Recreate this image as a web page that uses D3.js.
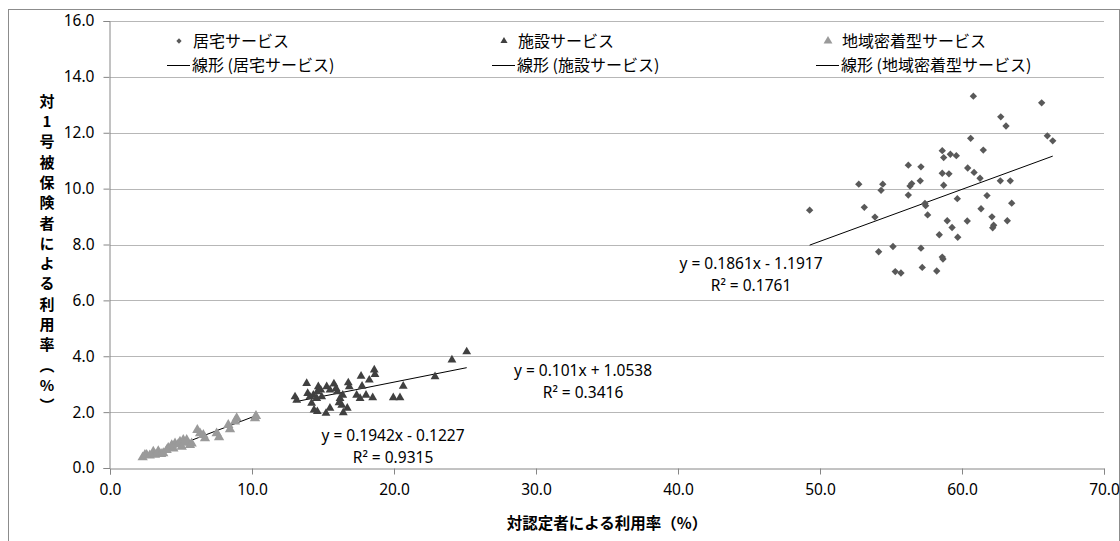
<!DOCTYPE html>
<html>
<head>
<meta charset="utf-8">
<script src="https://cdn.jsdelivr.net/npm/d3@7"></script>
<style>
    body { margin: 0; background: #fff; }
    svg text { font-family: "Noto Sans", "Noto Sans CJK JP", sans-serif; }
    .jp { font-family: "Noto Sans CJK JP", sans-serif; }
</style>
</head>
<body>
<div id="chart"></div>
<script>
// 居宅サービス [対認定者, 対1号被保険者]
const kyotakuX = [60.80, 65.61, 62.73, 63.10, 66.01, 66.39, 60.61, 61.50, 58.61, 58.71, 59.18, 59.60, 56.22, 57.11, 60.40,
    60.85, 58.61, 59.08, 61.27, 52.73, 54.42, 54.30, 56.46, 56.34, 57.06, 58.71, 62.70, 63.40, 56.22, 49.27,
    53.12, 53.87, 57.39, 57.44, 59.67, 61.76, 57.58, 61.34, 63.50, 58.96, 59.30, 60.37, 62.11, 62.23, 62.16,
    63.19, 59.70, 58.40, 55.14, 57.11, 54.13, 58.61, 58.66, 55.30, 55.70, 57.20, 58.22];
const kyotakuY = [13.31, 13.07, 12.57, 12.24, 11.89, 11.71, 11.80, 11.38, 11.36, 11.11, 11.23, 11.18, 10.84, 10.78, 10.74,
    10.58, 10.55, 10.53, 10.37, 10.16, 10.16, 9.94, 10.18, 10.09, 10.28, 10.12, 10.28, 10.28, 9.77, 9.23,
    9.33, 8.98, 9.47, 9.39, 9.64, 9.75, 9.06, 9.28, 9.48, 8.85, 8.61, 8.84, 8.99, 8.69, 8.60,
    8.85, 8.26, 8.35, 7.93, 7.87, 7.74, 7.55, 7.48, 7.03, 6.98, 7.18, 7.05];

// 施設サービス
const shisetsuX = [25.12, 24.08, 22.89, 20.65, 19.95, 20.42, 18.61, 18.66, 18.26, 17.68, 17.75, 17.37, 17.61, 18.03, 18.50,
    16.78, 16.85, 16.71, 16.43, 16.13, 16.32, 16.39, 16.20, 15.77, 15.92, 16.01, 15.26, 15.49, 15.49, 15.21,
    14.60, 14.67, 14.84, 14.32, 14.56, 14.91, 14.20, 14.37, 14.60, 13.85, 13.92, 14.08, 13.03, 13.15];
const shisetsuY = [4.16, 3.87, 3.27, 2.93, 2.52, 2.52, 3.51, 3.35, 3.15, 3.29, 2.93, 2.61, 2.49, 2.61, 2.52,
    3.05, 2.91, 2.14, 1.98, 2.34, 2.25, 2.61, 2.49, 3.01, 2.85, 2.73, 2.91, 2.79, 2.14, 1.96,
    2.73, 2.91, 2.79, 2.61, 2.49, 2.55, 2.32, 2.08, 2.02, 3.03, 2.67, 2.55, 2.55, 2.43];

// 地域密着型サービス
const chiikiX = [2.30, 2.46, 2.58, 2.80, 3.05, 3.17, 3.40, 3.60, 3.75, 3.99, 4.10, 4.35, 4.58, 4.46, 4.80, 4.93, 5.16,
    5.05, 5.30, 5.40, 5.63, 5.75, 6.15, 6.34, 6.57, 6.69, 7.51, 7.68, 8.33, 8.45, 8.92, 8.80, 10.21, 10.28];
const chiikiY = [0.38, 0.47, 0.47, 0.45, 0.58, 0.47, 0.60, 0.50, 0.53, 0.64, 0.72, 0.82, 0.88, 0.70, 0.85, 0.94, 1.00,
    0.76, 0.90, 1.00, 0.82, 0.88, 1.36, 1.24, 1.18, 1.06, 1.24, 1.10, 1.54, 1.39, 1.78, 1.66, 1.78, 1.86];

const seriesNames = ['居宅サービス', '施設サービス', '地域密着型サービス'];
const slopes = [0.1861, 0.101, 0.1942];
const intercepts = [-1.1917, 1.0538, -0.1227];
const r2 = [0.1761, 0.3416, 0.9315];
const xTicks = [0, 10, 20, 30, 40, 50, 60, 70];
const yTicks = [0, 2, 4, 6, 8, 10, 12, 14, 16];
const xTitle = '対認定者による利用率（%）';
const yTitle = '対1号被保険者による利用率（%）';

const W = 1120, H = 541;
const m = {left: 110, right: 16, top: 21, bottom: 73};

const svg = d3.select('#chart').append('svg')
    .attr('width', W)
    .attr('height', H);

svg.append('rect')
    .attr('x', 8.5).attr('y', 9.5)
    .attr('width', 1111).attr('height', 540)
    .attr('fill', 'none')
    .attr('stroke', '#8c8c8c');

let x = d3.scaleLinear().domain([0, 70]).range([m.left, W - m.right]);
let y = d3.scaleLinear().domain([0, 16]).range([H - m.bottom, m.top]);

// grid
svg.append('g').selectAll('line')
    .data(yTicks.filter(d => d > 0))
    .enter().append('line')
    .attr('x1', x(0)).attr('x2', x(70))
    .attr('y1', d => Math.round(y(d)) + 0.5)
    .attr('y2', d => Math.round(y(d)) + 0.5)
    .attr('stroke', '#b7b7b7');

let yAxis = svg.append('g')
    .attr('transform', 'translate(' + (m.left - 0.5) + ',0)')
    .call(d3.axisLeft(y).tickValues(yTicks).tickFormat(d3.format('.1f')).tickSize(6).tickPadding(9));
let xAxis = svg.append('g')
    .attr('transform', 'translate(0,' + (Math.round(y(0)) + 0.5) + ')')
    .call(d3.axisBottom(x).tickValues(xTicks).tickFormat(d3.format('.1f')).tickSize(6).tickPadding(6));

[yAxis, xAxis].forEach(function (a) {
    a.selectAll('path, line').attr('stroke', '#868686');
    a.selectAll('text').style('font-size', '15.5px').attr('fill', '#000');
});
xAxis.selectAll('text').attr('dy', '0.95em');

// trend lines
const xs = [kyotakuX, shisetsuX, chiikiX];
const ys = [kyotakuY, shisetsuY, chiikiY];
xs.forEach(function (arr, i) {
    let ext = d3.extent(arr);
    svg.append('line')
        .attr('x1', x(ext[0])).attr('y1', y(slopes[i] * ext[0] + intercepts[i]))
        .attr('x2', x(ext[1])).attr('y2', y(slopes[i] * ext[1] + intercepts[i]))
        .attr('stroke', '#000')
        .attr('stroke-width', 1);
});

// markers
const colors = ['#595959', '#404040', '#9a9a9a'];
const diamond = d3.symbol().type(d3.symbolSquare).size(27);
const tri1 = d3.symbol().type(d3.symbolTriangle).size(34);
const tri2 = d3.symbol().type(d3.symbolTriangle).size(46);
const shapes = [diamond, tri1, tri2];

// draw 地域 first, then 施設, then 居宅
[2, 1, 0].forEach(function (s) {
    let pts = xs[s].map((v, i) => [v, ys[s][i]]);
    svg.append('g').selectAll('path')
        .data(pts)
        .enter().append('path')
        .attr('d', shapes[s]())
        .attr('transform', d => 'translate(' + x(d[0]) + ',' + y(d[1]) + ')' + (s === 0 ? ' rotate(45)' : ''))
        .attr('fill', colors[s]);
});

// equations
const eqPos = [[751, 264], [583, 371], [393, 436]];
const eqFmt = [
    'y = 0.1861x - 1.1917',
    'y = 0.101x + 1.0538',
    'y = 0.1942x - 0.1227'
];
eqFmt.forEach(function (t, i) {
    let g = svg.append('g').attr('transform', 'translate(' + eqPos[i][0] + ',' + eqPos[i][1] + ')');
    g.append('text').attr('text-anchor', 'middle').attr('dy', '0.35em')
        .style('font-size', '15.5px').text(t);
    g.append('text').attr('text-anchor', 'middle').attr('y', 22).attr('dy', '0.35em')
        .style('font-size', '15.5px').text('R² = ' + r2[i].toFixed(4));
});

// legend
const legX = [179, 504, 828];
const legend = svg.append('g');
seriesNames.forEach(function (n, i) {
    let mk = [d3.symbol().type(d3.symbolSquare).size(14), d3.symbol().type(d3.symbolTriangle).size(22), d3.symbol().type(d3.symbolTriangle).size(34)][i];
    legend.append('path')
        .attr('d', mk())
        .attr('transform', 'translate(' + legX[i] + ',41)' + (i === 0 ? ' rotate(45)' : ''))
        .attr('fill', colors[i]);
    legend.append('text').attr('class', 'jp')
        .attr('x', legX[i] + 14).attr('y', 41).attr('dy', '0.36em')
        .style('font-size', '16px').text(n);
    legend.append('line')
        .attr('x1', legX[i] - 12).attr('x2', legX[i] + 11)
        .attr('y1', 65.5).attr('y2', 65.5)
        .attr('stroke', '#000');
    legend.append('text').attr('class', 'jp')
        .attr('x', legX[i] + 13).attr('y', 65).attr('dy', '0.36em')
        .style('font-size', '16px').text('線形 (' + n + ')');
});

// axis titles
svg.append('text').attr('class', 'jp')
    .attr('x', 607).attr('y', 523).attr('dy', '0.36em')
    .attr('text-anchor', 'middle')
    .style('font-size', '15.5px').style('font-weight', 'bold')
    .text(xTitle);

svg.append('text').attr('class', 'jp')
    .attr('x', 47).attr('y', 256)
    .attr('text-anchor', 'middle')
    .style('writing-mode', 'vertical-rl')
    .style('text-orientation', 'upright')
    .style('font-size', '15px').style('font-weight', 'bold')
    .style('letter-spacing', '5.3px')
    .text(yTitle);
</script>
</body>
</html>
